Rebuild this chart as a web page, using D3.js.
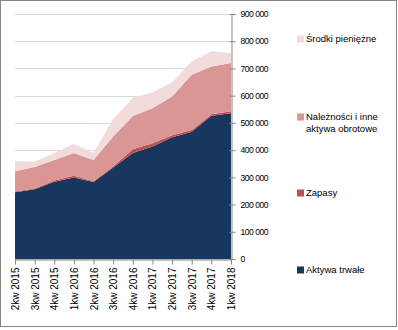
<!DOCTYPE html>
<html>
<head>
<meta charset="utf-8">
<script src="https://cdn.jsdelivr.net/npm/d3@7"></script>
<style>
  body { margin: 0; background: #fff; }
  svg { display: block; font-family: "Liberation Sans", Arial, sans-serif; }
</style>
</head>
<body>
<div id="chart"></div>
<script>
var categories = ['2kw 2015', '3kw 2015', '4kw 2015', '1kw 2016', '2kw 2016', '3kw 2016',
                  '4kw 2016', '1kw 2017', '2kw 2017', '3kw 2017', '4kw 2017', '1kw 2018'];
// values in PLN thousands
var aktywaTrwale = [245, 256, 284, 299, 283, 336, 389, 413, 447, 467, 526, 535];
var zapasy = [3, 3, 4, 7, 3, 5, 14, 12, 8, 7, 6, 8];
var naleznosci = [74, 79, 76, 83, 78, 109, 122, 129, 142, 203, 175, 177];
var srodki = [38, 19, 25, 34, 25, 64, 67, 58, 52, 49, 56, 36];
var yTicks = [0, 100000, 200000, 300000, 400000, 500000, 600000, 700000, 800000, 900000];

var seriesNames = ['Aktywa trwałe', 'Zapasy', 'Należności i inne aktywa obrotowe', 'Środki pieniężne'];
var seriesColors = ['#17375e', '#c0504d', '#d99694', '#f2dcdb'];

var width = 398, height = 330;
var margin = {left: 15, right: 167, top: 14, bottom: 71};

var rows = categories.map(function(c, i) {
  return {cat: c, s0: aktywaTrwale[i] * 1000, s1: zapasy[i] * 1000, s2: naleznosci[i] * 1000, s3: srodki[i] * 1000};
});

var svg = d3.select('#chart').append('svg')
  .attr('width', width)
  .attr('height', height);

svg.append('rect')
  .attr('x', 0.5).attr('y', 0.5)
  .attr('width', 396).attr('height', 326)
  .attr('fill', '#fff')
  .attr('stroke', '#868686');

var x = d3.scalePoint()
  .domain(categories)
  .range([margin.left, width - margin.right]);

var y = d3.scaleLinear()
  .domain([0, 900000])
  .range([height - margin.bottom, margin.top]);

// gridlines
svg.append('g')
  .selectAll('line')
  .data(yTicks)
  .enter()
  .append('line')
  .attr('x1', margin.left)
  .attr('x2', width - margin.right)
  .attr('y1', function(d) { return Math.round(y(d)) + 0.5; })
  .attr('y2', function(d) { return Math.round(y(d)) + 0.5; })
  .attr('stroke', '#d9d9d9');

var stack = d3.stack().keys(['s0', 's1', 's2', 's3']);
var layers = stack(rows);

var area = d3.area()
  .x(function(d) { return x(d.data.cat); })
  .y0(function(d) { return y(d[0]); })
  .y1(function(d) { return y(d[1]); });

svg.append('g')
  .selectAll('path')
  .data(layers)
  .enter()
  .append('path')
  .attr('d', area)
  .attr('fill', function(d, i) { return seriesColors[i]; });

// right value axis
var yAxis = svg.append('g')
  .attr('transform', 'translate(' + (Math.round(width - margin.right) + 0.5) + ',0)')
  .call(d3.axisRight(y)
    .tickValues(yTicks)
    .tickSize(4)
    .tickPadding(5)
    .tickFormat(function(d) { return d3.format(',')(d).replace(/,/g, ' '); }));
yAxis.select('.domain').attr('stroke', '#868686');
yAxis.selectAll('.tick line').attr('stroke', '#868686').attr('x1', -2);
yAxis.selectAll('.tick text')
  .attr('fill', '#000')
  .style('font-size', '8.6px')
  .style('letter-spacing', '-0.5px');

// category axis
var xAxis = svg.append('g')
  .attr('transform', 'translate(0,' + (Math.round(height - margin.bottom) + 0.5) + ')')
  .call(d3.axisBottom(x).tickSize(5).tickSizeOuter(0));
xAxis.select('.domain').attr('stroke', '#868686');
xAxis.selectAll('.tick line').attr('stroke', '#868686');
xAxis.selectAll('.tick text')
  .attr('fill', '#000')
  .style('font-size', '10px')
  .attr('text-anchor', 'end')
  .attr('transform', 'rotate(-90)')
  .attr('x', -8)
  .attr('y', 0)
  .attr('dy', '0.35em');

// legend, top to bottom
var legendItems = [
  {lines: ['Środki pieniężne'], y: 39, color: seriesColors[3]},
  {lines: ['Należności i inne', 'aktywa obrotowe'], y: 117, color: seriesColors[2]},
  {lines: ['Zapasy'], y: 193, color: seriesColors[1]},
  {lines: ['Aktywa trwałe'], y: 270, color: seriesColors[0]}
];

var legend = svg.append('g')
  .selectAll('g')
  .data(legendItems)
  .enter()
  .append('g')
  .attr('transform', function(d) { return 'translate(297,' + d.y + ')'; });

legend.append('rect')
  .attr('x', 0)
  .attr('y', -3.5)
  .attr('width', 7)
  .attr('height', 7)
  .attr('fill', function(d) { return d.color; });

legend.append('text')
  .style('font-size', '9.5px')
  .selectAll('tspan')
  .data(function(d) { return d.lines; })
  .enter()
  .append('tspan')
  .attr('x', 9)
  .attr('y', function(d, i) { return i * 12 + 3.4; })
  .text(function(d) { return d; });
</script>
</body>
</html>
